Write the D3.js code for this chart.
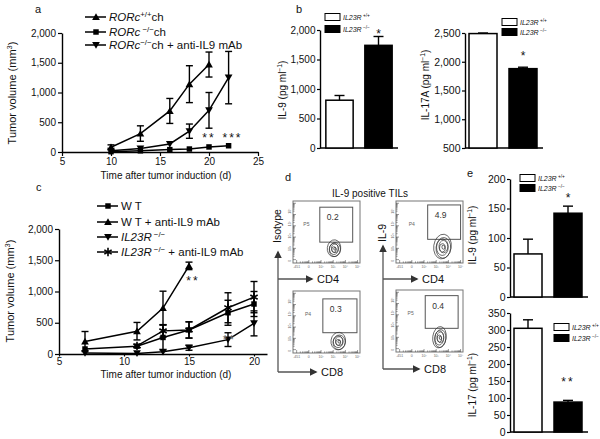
<!DOCTYPE html>
<html><head><meta charset="utf-8">
<script src="https://cdn.jsdelivr.net/npm/d3@7"></script>
<style>
body{margin:0;background:#fff}
svg{font-family:"Liberation Sans",Arial,sans-serif}
</style>
</head><body>
<svg id="fig" width="600" height="439"></svg>
<script>
// ---------------- DATA ----------------
// Panel a: tumour volume (mm3) vs day
const aDaysWT   = [10, 13, 16, 18, 20];
const aVolWT    = [80, 310, 690, 1140, 1470];
const aErrWT    = [40, 130, 210, 310, 210];
const aDaysKO   = [10, 13, 16, 18, 20, 22];
const aVolKO    = [5, 20, 40, 50, 85, 105];
const aErrKO    = [0, 0, 0, 0, 0, 0];
const aDaysKOab = [10, 13, 16, 18, 20, 22];
const aVolKOab  = [20, 60, 135, 350, 700, 1250];
const aErrKOab  = [0, 0, 0, 120, 300, 440];
const aXTicks = [5, 10, 15, 20, 25];
const aYTicks = [0, 500, 1000, 1500, 2000];
const aSig = [{day: 20, val: 170, label: "**"}, {day: 22.4, val: 170, label: "***"}];

// Panel c
const cDaysWT     = [7, 11, 13, 15, 18, 20];
const cVolWT      = [80, 125, 265, 385, 660, 800];
const cErrWT      = [0, 0, 200, 130, 200, 200];
const cDaysWTab   = [7, 11, 13, 15];
const cVolWTab    = [200, 365, 735, 1410];
const cErrWTab    = [160, 140, 270, 60];
const cDaysKO     = [7, 11, 13, 15, 18, 20];
const cVolKO      = [15, 10, 35, 100, 230, 490];
const cErrKO      = [0, 0, 0, 40, 110, 200];
const cDaysKOab   = [11, 13, 15, 18, 20];
const cVolKOab    = [130, 370, 385, 740, 910];
const cErrKOab    = [0, 100, 130, 240, 250];
const cXTicks = [5, 10, 15, 20];
const cYTicks = [0, 500, 1000, 1500, 2000];
const cSig = [{day: 15.3, val: 1110, label: "**", color: "#111"}, {day: 18.1, val: 160, label: "**", color: "#666"}];

// Panel b / e bar values
const barGroups = ["IL23R+/+", "IL23R-/-"];
const bIL9    = [810, 1740];
const bIL9Err = [80, 150];
const bIL9Ticks = [0, 500, 1000, 1500, 2000];
const bIL17A    = [2490, 1880];
const bIL17AErr = [10, 25];
const bIL17ATicks = [500, 1000, 1500, 2000, 2500];
const eIL9    = [73, 142];
const eIL9Err = [25, 12];
const eIL9Ticks = [0, 50, 100, 150, 200];
const eIL17    = [305, 88];
const eIL17Err = [25, 5];
const eIL17Ticks = [0, 50, 100, 150, 200, 250, 300, 350];

// Panel d flow plots (decade units)
const flowPct   = ["0.2", "4.9", "0.3", "0.4"];
const flowPop   = ["P5", "P4", "P4", "P5"];
const flowGates = [[2.2, 4.9, 1.85, 4.95], [2.6, 5.3, 2.1, 5.15], [2.45, 5.25, 1.8, 4.8], [2.4, 5.1, 2.1, 5.0]];
const flowBlobs = [[3.4, 1.25, 0.55, 0.75], [3.85, 1.4, 0.72, 1.1], [3.75, 1.0, 0.6, 0.78], [3.6, 1.25, 0.55, 0.95]];
const flowYLabels = ["10\u2075", "10\u2074", "10\u00b3", "10\u00b2", "0"];
const flowXLabels = ["-451", "0", "10\u00b2", "10\u00b3", "10\u2074", "10\u2075"];

// ---------------- HELPERS ----------------
const svg = d3.select("#fig");
const FONT = '"Liberation Sans",Arial,sans-serif';

function rich(sel, parts, fs) {
  let shifted = false;
  parts.forEach(p => {
    const ts = sel.append("tspan").text(p.t);
    if (p.i) ts.attr("font-style", "italic");
    if (p.sup) {
      ts.attr("font-size", fs * 0.68);
      if (!shifted) { ts.attr("dy", -fs * 0.38); shifted = true; }
    } else if (shifted) { ts.attr("dy", fs * 0.38); shifted = false; }
  });
  return sel;
}

function styleAxis(g, fs) {
  g.select(".domain").attr("stroke", "#000").attr("stroke-width", 1.4);
  g.selectAll(".tick line").attr("stroke", "#000").attr("stroke-width", 1.2);
  g.selectAll(".tick text").attr("font-size", fs).attr("font-family", FONT).attr("fill", "#111");
}

const symTri = d3.symbol(d3.symbolTriangle, 26);
const symSq = d3.symbol(d3.symbolSquare, 30);
const symStar = d3.symbol(d3.symbolAsterisk || d3.symbolCross, 50);

function drawMarker(g, kind, x, y) {
  if (kind === "up") g.append("path").attr("d", symTri()).attr("transform", `translate(${x},${y + 0.8})`).attr("fill", "#000");
  else if (kind === "down") g.append("path").attr("d", symTri()).attr("transform", `translate(${x},${y - 0.8}) rotate(180)`).attr("fill", "#000");
  else if (kind === "sq") g.append("path").attr("d", symSq()).attr("transform", `translate(${x},${y})`).attr("fill", "#000");
  else if (kind === "star") g.append("path").attr("d", symStar()).attr("transform", `translate(${x},${y})`).attr("fill", "none").attr("stroke", "#000").attr("stroke-width", 1.6);
}

function lineChart(cfg) {
  const g = svg.append("g");
  const x = d3.scaleLinear().domain(cfg.xd).range(cfg.xr);
  const y = d3.scaleLinear().domain(cfg.yd).range(cfg.yr);
  const gy = g.append("g").attr("transform", `translate(${cfg.xr[0]},0)`)
    .call(d3.axisLeft(y).tickValues(cfg.yTicks).tickFormat(d3.format(",")).tickSize(4).tickSizeOuter(0).tickPadding(2));
  styleAxis(gy, 10);
  const gx = g.append("g").attr("transform", `translate(0,${cfg.yr[0]})`)
    .call(d3.axisBottom(x).tickValues(cfg.xTicks).tickSize(cfg.xTick).tickSizeOuter(0).tickPadding(cfg.xPad));
  styleAxis(gx, 10);
  cfg.series.forEach(s => {
    const pts = s.days.map((d, i) => ({d, v: s.vals[i], e: s.errs[i]}));
    g.append("path").datum(pts).attr("fill", "none").attr("stroke", "#000").attr("stroke-width", 1.5)
      .attr("d", d3.line().x(p => x(p.d)).y(p => y(p.v)));
    pts.filter(p => p.e > 0).forEach(p => {
      const lo = Math.max(cfg.yd[0], p.v - p.e), hi = p.v + p.e;
      const xx = x(p.d);
      g.append("line").attr("x1", xx).attr("x2", xx).attr("y1", y(lo)).attr("y2", y(hi)).attr("stroke", "#000").attr("stroke-width", 1.4);
      [lo, hi].forEach(v => g.append("line").attr("x1", xx - 3.5).attr("x2", xx + 3.5).attr("y1", y(v)).attr("y2", y(v)).attr("stroke", "#000").attr("stroke-width", 1.4));
    });
    pts.forEach(p => drawMarker(g, s.kind, x(p.d), y(p.v)));
  });
  cfg.sig.forEach(s => {
    g.append("text").attr("x", x(s.day)).attr("y", y(s.val)).attr("text-anchor", "middle")
      .attr("font-size", 12).attr("letter-spacing", 2).attr("fill", s.color || "#111").text(s.label);
  });
  // axis titles
  g.append("text").attr("x", cfg.xTitle[0]).attr("y", cfg.xTitle[1]).attr("text-anchor", "middle")
    .attr("font-size", 10).attr("fill", "#111").text("Time after tumor induction (d)");
  const yt = g.append("text").attr("transform", `translate(${cfg.yTitle[0]},${cfg.yTitle[1]}) rotate(-90)`)
    .attr("text-anchor", "middle").attr("font-size", 11).attr("fill", "#111");
  rich(yt, [{t: "Tumor volume (mm"}, {t: "3", sup: true}, {t: ")"}], 11);
  // legend
  cfg.legend.forEach((L, i) => {
    const ly = cfg.legPos[1] + cfg.legStep[i];
    g.append("line").attr("x1", cfg.legPos[0]).attr("x2", cfg.legPos[0] + 21).attr("y1", ly).attr("y2", ly).attr("stroke", "#000").attr("stroke-width", 1.5);
    drawMarker(g, cfg.series[i].kind, cfg.legPos[0] + 11, ly);
    const t = g.append("text").attr("x", cfg.legPos[0] + 24).attr("y", ly + 4).attr("font-size", cfg.legFs).attr("fill", "#111");
    rich(t, L, cfg.legFs);
  });
}

function barChart(cfg) {
  const g = svg.append("g");
  const xb = d3.scaleBand().domain(barGroups).range(cfg.xr).paddingInner(0.3).paddingOuter(cfg.pO);
  const y = d3.scaleLinear().domain(cfg.yd).range(cfg.yr);
  const gy = g.append("g").attr("transform", `translate(${cfg.xr[0]},0)`)
    .call(d3.axisLeft(y).tickValues(cfg.ticks).tickFormat(d3.format(",")).tickSize(3).tickSizeOuter(0).tickPadding(1.5));
  styleAxis(gy, cfg.fs);
  g.append("line").attr("x1", cfg.xr[0]).attr("x2", cfg.xEnd).attr("y1", cfg.yr[0]).attr("y2", cfg.yr[0]).attr("stroke", "#000").attr("stroke-width", 1.4);
  barGroups.forEach((k, i) => {
    const v = cfg.vals[i], e = cfg.errs[i];
    const cx = xb(k) + xb.bandwidth() / 2;
    g.append("line").attr("x1", cx).attr("x2", cx).attr("y1", y(v)).attr("y2", y(v + e)).attr("stroke", "#000").attr("stroke-width", 1.4);
    g.append("line").attr("x1", cx - 5).attr("x2", cx + 5).attr("y1", y(v + e)).attr("y2", y(v + e)).attr("stroke", "#000").attr("stroke-width", 1.4);
    g.append("rect").attr("x", xb(k)).attr("width", xb.bandwidth()).attr("y", y(v)).attr("height", y(cfg.yd[0]) - y(v))
      .attr("fill", i ? "#000" : "#fff").attr("stroke", "#000").attr("stroke-width", 1.5);
  });
  const sx = xb(barGroups[1]) + xb.bandwidth() / 2;
  g.append("text").attr("x", sx).attr("y", y(cfg.sigVal)).attr("text-anchor", "middle").attr("font-size", 12)
    .attr("letter-spacing", cfg.sig.length > 1 ? 2 : 0).attr("fill", "#111").text(cfg.sig);
  const yt = g.append("text").attr("transform", `translate(${cfg.yTitle[0]},${cfg.yTitle[1]}) rotate(-90)`)
    .attr("text-anchor", "middle").attr("font-size", 10).attr("fill", "#111");
  rich(yt, [{t: cfg.title + " (pg ml"}, {t: "\u22121", sup: true}, {t: ")"}], 10);
  // legend
  [["+/+", "#fff"], ["\u2212/\u2212", "#000"]].forEach((L, i) => {
    const ly = cfg.leg[1] + i * cfg.leg[2];
    g.append("rect").attr("x", cfg.leg[0]).attr("y", ly - 3.5).attr("width", 15).attr("height", 7)
      .attr("fill", L[1]).attr("stroke", "#000").attr("stroke-width", 1);
    const t = g.append("text").attr("x", cfg.leg[0] + 18).attr("y", ly + 2.5).attr("font-size", 7).attr("fill", "#111");
    rich(t, [{t: "IL23R", i: true}, {t: " " + L[0], sup: true}], 7);
  });
}

// ---------------- PANEL LABELS ----------------
[["a", 35, 13], ["b", 296, 13], ["c", 36, 191], ["d", 285, 181], ["e", 467, 177]].forEach(l =>
  svg.append("text").attr("x", l[1]).attr("y", l[2]).attr("font-size", 11).attr("fill", "#111").text(l[0]));

// ---------------- PANEL A ----------------
lineChart({
  xd: [5, 25], xr: [62, 258], yd: [0, 2000], yr: [152, 33],
  xTicks: aXTicks, yTicks: aYTicks, xTick: 4, xPad: 2,
  series: [
    {days: aDaysWT, vals: aVolWT, errs: aErrWT, kind: "up"},
    {days: aDaysKO, vals: aVolKO, errs: aErrKO, kind: "sq"},
    {days: aDaysKOab, vals: aVolKOab, errs: aErrKOab, kind: "down"}
  ],
  sig: aSig,
  xTitle: [166, 179], yTitle: [16, 93],
  legPos: [85, 0], legStep: [17, 32, 45], legFs: 11.5,
  legend: [
    [{t: "RORc", i: true}, {t: "+/+", sup: true}, {t: "ch"}],
    [{t: "RORc", i: true}, {t: " \u2212/\u2212", sup: true}, {t: "ch"}],
    [{t: "RORc", i: true}, {t: "\u2212/\u2212", sup: true}, {t: "ch + anti-IL9 mAb"}]
  ]
});

// ---------------- PANEL C ----------------
lineChart({
  xd: [5, 21], xr: [59, 267], yd: [0, 2000], yr: [354, 229],
  xTicks: cXTicks, yTicks: cYTicks, xTick: 2.5, xPad: 1,
  series: [
    {days: cDaysWT, vals: cVolWT, errs: cErrWT, kind: "sq"},
    {days: cDaysWTab, vals: cVolWTab, errs: cErrWTab, kind: "up"},
    {days: cDaysKO, vals: cVolKO, errs: cErrKO, kind: "down"},
    {days: cDaysKOab, vals: cVolKOab, errs: cErrKOab, kind: "star"}
  ],
  sig: cSig,
  xTitle: [166, 377.5], yTitle: [14, 291],
  legPos: [97, 0], legStep: [206, 222, 237, 252], legFs: 11.5,
  legend: [
    [{t: "W T"}],
    [{t: "W T + anti-IL9 mAb"}],
    [{t: "IL23R", i: true}, {t: " \u2212/\u2212", sup: true}],
    [{t: "IL23R", i: true}, {t: " \u2212/\u2212", sup: true}, {t: " + anti-IL9 mAb"}]
  ]
});

// ---------------- PANEL B ----------------
barChart({xr: [320, 398], pO: 0.15, xEnd: 398, yd: [0, 2000], yr: [148, 30], ticks: bIL9Ticks, fs: 10,
  vals: bIL9, errs: bIL9Err, sig: "*", sigVal: 1870, title: "IL-9", yTitle: [286, 90], leg: [325, 17, 12]});
barChart({xr: [465, 541], pO: 0.1, xEnd: 543, yd: [500, 2500], yr: [148, 33], ticks: bIL17ATicks, fs: 10.5,
  vals: bIL17A, errs: bIL17AErr, sig: "*", sigVal: 2030, title: "IL-17A", yTitle: [429, 85], leg: [502, 22, 10]});

// ---------------- PANEL E ----------------
barChart({xr: [510, 586], pO: 0.1, xEnd: 588, yd: [0, 200], yr: [297, 179], ticks: eIL9Ticks, fs: 10.5,
  vals: eIL9, errs: eIL9Err, sig: "*", sigVal: 161, title: "IL-9", yTitle: [476, 235], leg: [520, 178, 10]});
barChart({xr: [510, 586], pO: 0.1, xEnd: 588, yd: [0, 350], yr: [432, 313], ticks: eIL17Ticks, fs: 10.5,
  vals: eIL17, errs: eIL17Err, sig: "**", sigVal: 135, title: "IL-17", yTitle: [476, 385], leg: [554, 327, 11]});

// ---------------- PANEL D ----------------
svg.append("text").attr("x", 370).attr("y", 197).attr("text-anchor", "middle").attr("font-size", 10).attr("fill", "#111").text("IL-9 positive TILs");
const defs = svg.append("defs");
defs.append("marker").attr("id", "arr").attr("viewBox", "0 0 10 10").attr("refX", 8).attr("refY", 5)
  .attr("markerWidth", 6).attr("markerHeight", 6).attr("orient", "auto-start-reverse")
  .append("path").attr("d", "M0,0 L10,5 L0,10 z").attr("fill", "#333");

const flowBoxes = [[293, 201], [396, 201], [293, 291], [396, 290]];
const FW = 67, FH = 62;
flowBoxes.forEach((b, k) => {
  const g = svg.append("g").attr("transform", `translate(${b[0]},${b[1]})`);
  const fx = d3.scaleLinear().domain([0, 5.5]).range([0, FW]);
  const fy = d3.scaleLinear().domain([0, 5.5]).range([FH, 0]);
  g.append("rect").attr("width", FW).attr("height", FH).attr("fill", "none").attr("stroke", "#777").attr("stroke-width", 1);
  for (let dd = 0; dd < 5.5; dd++) {
    for (let m = 1; m < 10; m++) {
      const v = dd + Math.log10(m) + 0.3;
      if (v > 5.4) continue;
      const len = m === 1 ? 3 : 1.6;
      g.append("line").attr("x1", 0).attr("x2", len).attr("y1", fy(v)).attr("y2", fy(v)).attr("stroke", "#555").attr("stroke-width", 0.6);
      g.append("line").attr("y1", FH).attr("y2", FH - len).attr("x1", fx(v)).attr("x2", fx(v)).attr("stroke", "#555").attr("stroke-width", 0.6);
    }
  }
  flowYLabels.forEach((t, i) => g.append("text").attr("transform", `translate(-2,${fy(4.6 - i * 1.1)}) rotate(-90)`)
    .attr("text-anchor", "middle").attr("font-size", 3.5).attr("fill", "#666").text(t));
  flowXLabels.forEach((t, i) => g.append("text").attr("x", fx(0.3 + i * 1)).attr("y", FH + 5)
    .attr("text-anchor", "middle").attr("font-size", 3.5).attr("fill", "#666").text(t));
  const gt = flowGates[k];
  g.append("rect").attr("x", fx(gt[0])).attr("y", fy(gt[3])).attr("width", fx(gt[1]) - fx(gt[0])).attr("height", fy(gt[2]) - fy(gt[3]))
    .attr("fill", "none").attr("stroke", "#555").attr("stroke-width", 1);
  g.append("text").attr("x", fx(gt[0]) + 7).attr("y", fy(gt[3]) + 13).attr("font-size", 8.5).attr("fill", "#333").text(flowPct[k]);
  g.append("text").attr("x", fx(gt[0] * 0.5 - 0.25)).attr("y", fy(3.3)).attr("font-size", 5).attr("fill", "#666").text(flowPop[k]);
  const bl = flowBlobs[k];
  const bxs = fx(bl[2]) - fx(0), bys = fy(0) - fy(bl[3]);
  for (let r = 1; r <= 6; r++) {
    const f = r / 6;
    g.append("ellipse").attr("cx", fx(bl[0]) + (r % 2 ? 0.5 : -0.5)).attr("cy", fy(bl[1]) + (r % 3 - 1) * 0.6)
      .attr("rx", bxs * f).attr("ry", bys * f).attr("transform", `rotate(${-10 + r * 3},${fx(bl[0])},${fy(bl[1])})`)
      .attr("fill", "none").attr("stroke", "#333").attr("stroke-width", 0.7);
  }
});
[[278, 252, 279, 372, 312, 316, "Isotype", 243], [383, 246, 279, 369, 417, 419, "IL-9", 242]].forEach(a => {
  const [x0, yTop, yA, yB, xA, xB, lab, labEnd] = a;
  svg.append("line").attr("x1", x0).attr("x2", x0).attr("y1", yB).attr("y2", yTop).attr("stroke", "#555").attr("stroke-width", 1.3).attr("marker-end", "url(#arr)");
  svg.append("line").attr("x1", x0).attr("x2", xA).attr("y1", yA).attr("y2", yA).attr("stroke", "#555").attr("stroke-width", 1.3).attr("marker-end", "url(#arr)");
  svg.append("line").attr("x1", x0).attr("x2", xB).attr("y1", yB).attr("y2", yB).attr("stroke", "#555").attr("stroke-width", 1.3).attr("marker-end", "url(#arr)");
  svg.append("text").attr("x", xA + 5).attr("y", yA + 4).attr("font-size", 11).attr("fill", "#111").text("CD4");
  svg.append("text").attr("x", xB + 5).attr("y", yB + 4).attr("font-size", 11).attr("fill", "#111").text("CD8");
  svg.append("text").attr("transform", `translate(${x0 + 3},${labEnd}) rotate(-90)`).attr("font-size", 10.5).attr("fill", "#111").text(lab);
});
</script>
</body></html>
